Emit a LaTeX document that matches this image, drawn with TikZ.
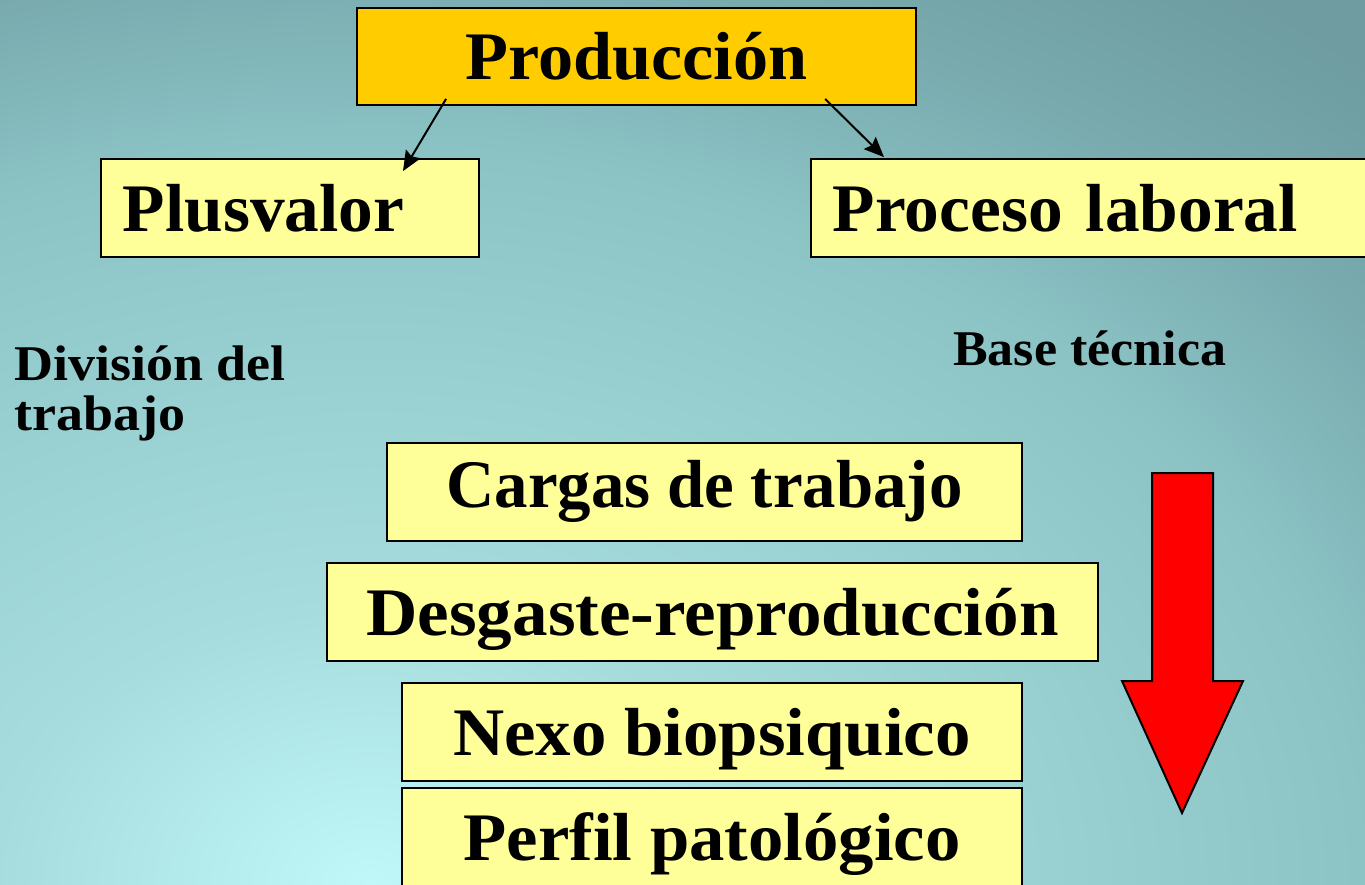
\documentclass[tikz,border=0pt]{standalone}
\usepackage{fontspec}
\usepackage{graphicx}
\setmainfont{Liberation Serif}
\usetikzlibrary{arrows.meta,calc}
\definecolor{gold}{HTML}{FFCC00}
\definecolor{paleyel}{HTML}{FFFF99}
\definecolor{arrred}{HTML}{FF0000}
\definecolor{bga}{HTML}{C0F7F9}
\definecolor{bgb}{HTML}{A6DCDE}
\definecolor{bgc}{HTML}{8CC4C6}
\definecolor{bgd}{HTML}{78AAAE}
\definecolor{bge}{HTML}{6E9CA0}
\pgfdeclareradialshading{bgshade}{\pgfpoint{0bp}{0bp}}{color(0bp)=(bga); color(6.25bp)=(bgb); color(16.5bp)=(bgc); color(21bp)=(bgd); color(25bp)=(bge); color(50bp)=(bge)}
\newcommand\hs[2]{\scalebox{#1}[1]{#2}}
\tikzset{
  box/.style={draw=black, line width=1.8pt, fill=paleyel, inner sep=0pt,
    minimum height=98pt, text height=46pt, text depth=0pt,
    font=\fontsize{68}{80}\selectfont\bfseries},
  lbox/.style={box, anchor=west, align=left, inner xsep=22pt},
  small/.style={font=\fontsize{50}{50}\selectfont\bfseries, inner sep=0pt, align=left},
  conn/.style={line width=2pt, draw=black, -{Stealth[length=20pt,width=17pt,inset=3pt]}},
  bigarrow/.style={fill=arrred, draw=black, line width=2pt, line join=miter}
}
\begin{document}
\begin{tikzpicture}[x=1pt,y=-1pt]
\useasboundingbox (0,0) rectangle (1365,884);
\begin{scope}
  \clip (0,0) rectangle (1365,884);
  \fill[bge] (0,0) rectangle (1365,884);
  \shade[shading=bgshade] (370,884) ellipse [x radius=1500pt, y radius=1100pt];
\end{scope}

\node[box, fill=gold, minimum width=559pt, minimum height=97pt] (prod) at (636.5,56.5) {\hs{1.033}{Producción}};
\node[lbox, text width=334pt] (plus) at (100,208) {\hs{1.02}{Plusvalor}};
\node[lbox, text width=521pt] (proc) at (810,208) {\hs{1.02}{Proceso laboral}};

\node[small, anchor=base west] (div) at (14,430) {\hs{1.08}{División del}\\[0pt]\hs{1.08}{trabajo}};
\node[small, anchor=base west] (base) at (953,365) {\hs{1.04}{Base técnica}};

\node[box, minimum width=635pt, text depth=16pt] (carg) at (704.5,492) {\hs{0.983}{Cargas de trabajo}};
\node[box, minimum width=771pt] (desg) at (712.5,612) {\hs{1.045}{Desgaste-reproducción}};
\node[box, minimum width=620pt] (nexo) at (712,732) {\hs{1.042}{Nexo biopsiquico}};
\node[box, minimum width=620pt] (perf) at (712,837) {\hs{1.04}{Perfil patológico}};

\coordinate (s1) at ([shift={(90,-7)}]prod.south west);
\coordinate (e1) at ([shift={(303,13)}]plus.north west);
\coordinate (s2) at ([shift={(469,-7)}]prod.south west);
\coordinate (e2) at ([shift={(74,-1)}]proc.north west);
\draw[conn] (s1) -- (e1);
\draw[conn] (s2) -- (e2);

\draw[bigarrow] (1152,473) -- (1213,473) -- (1213,681) -- (1243,681) -- (1182,813) -- (1122,681) -- (1152,681) -- cycle;
\end{tikzpicture}
\end{document}
